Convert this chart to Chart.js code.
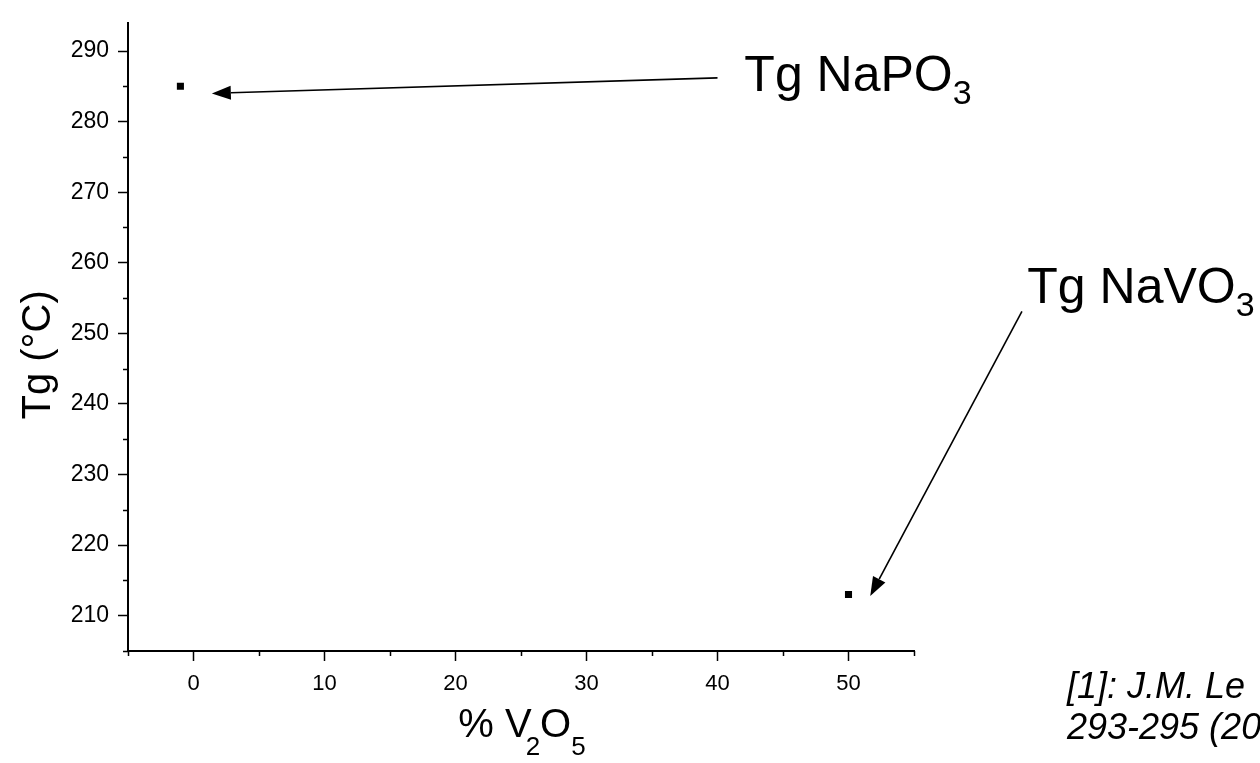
<!DOCTYPE html>
<html>
<head>
<meta charset="utf-8">
<script src="https://cdn.jsdelivr.net/npm/chart.js@4"></script>
<style>
html,body{margin:0;padding:0;background:#fff;overflow:hidden}
#wrap{width:1260px;height:763px;position:relative}
</style>
</head>
<body>
<div id="wrap"><canvas id="c"></canvas></div>
<script>
// ---- data ----
const vPercent = [-1, 50];          // % V2O5
const tgValues = [285, 213];        // Tg (°C)
const xMajorTicks = [0, 10, 20, 30, 40, 50];
const xMinorTicks = [-5, 5, 15, 25, 35, 45, 55];
const yMajorTicks = [210, 220, 230, 240, 250, 260, 270, 280, 290];
const yMinorTicks = [205, 215, 225, 235, 245, 255, 265, 275, 285];
const yTitle = 'Tg (°C)';
const citationLines = ['[1]: J.M. Le', '293-295 (20'];

const FONT = '"Liberation Sans", Arial, Helvetica, sans-serif';

// annotations (arrow tail/tip and label anchor in data units)
const annotations = [
  {text: 'Tg NaPO', sub: '3', tx: 42.05, ty: 284.3, tail: [40.0, 286.2], tip: [1.4, 284.0]},
  {text: 'Tg NaVO', sub: '3', tx: 63.65, ty: 254.3, tail: [63.24, 253.1], tip: [51.66, 212.8]}
];

function drawRich(ctx, parts, x, y, size, subScale, subDrop) {
  let cx = x;
  for (const p of parts) {
    if (p.sub) {
      ctx.font = `${Math.round(size * subScale)}px ${FONT}`;
      cx += (p.dx || 0);
      ctx.fillText(p.t, cx, y + size * subDrop);
      cx += ctx.measureText(p.t).width;
    } else {
      ctx.font = `${size}px ${FONT}`;
      ctx.fillText(p.t, cx, y);
      cx += ctx.measureText(p.t).width;
    }
  }
  return cx - x;
}
function measureRich(ctx, parts, size, subScale) {
  let w = 0;
  for (const p of parts) {
    ctx.font = p.sub ? `${Math.round(size * subScale)}px ${FONT}` : `${size}px ${FONT}`;
    w += ctx.measureText(p.t).width + (p.dx || 0);
  }
  return w;
}
function arrow(ctx, x1, y1, x2, y2) {
  const ang = Math.atan2(y2 - y1, x2 - x1);
  const L = 19, W = 7;
  const bx = x2 - L * Math.cos(ang), by = y2 - L * Math.sin(ang);
  ctx.beginPath();
  ctx.moveTo(x1, y1);
  ctx.lineTo(bx, by);
  ctx.lineWidth = 1.6;
  ctx.strokeStyle = '#000';
  ctx.stroke();
  ctx.beginPath();
  ctx.moveTo(x2, y2);
  ctx.lineTo(bx + W * Math.sin(ang), by - W * Math.cos(ang));
  ctx.lineTo(bx - W * Math.sin(ang), by + W * Math.cos(ang));
  ctx.closePath();
  ctx.fillStyle = '#000';
  ctx.fill();
}

const decor = {
  id: 'decor',
  afterDraw(chart) {
    const ctx = chart.ctx;
    const xs = chart.scales.x, ys = chart.scales.y;
    const area = chart.chartArea;
    ctx.save();
    // minor ticks
    ctx.strokeStyle = '#000';
    ctx.lineWidth = 1.5;
    ctx.beginPath();
    for (const v of xMinorTicks) {
      const px = Math.round(xs.getPixelForValue(v)) + 0.5;
      ctx.moveTo(px, area.bottom);
      ctx.lineTo(px, area.bottom + 5);
    }
    for (const v of yMinorTicks) {
      const py = Math.round(ys.getPixelForValue(v)) + 0.5;
      ctx.moveTo(area.left - 5, py);
      ctx.lineTo(area.left, py);
    }
    ctx.stroke();

    ctx.fillStyle = '#000';
    ctx.textBaseline = 'alphabetic';
    ctx.textAlign = 'left';

    // y title
    ctx.save();
    ctx.translate(50, (area.top + area.bottom) / 2 + 18);
    ctx.rotate(-Math.PI / 2);
    ctx.font = `40px ${FONT}`;
    ctx.textAlign = 'center';
    ctx.fillText(yTitle, 0, 0);
    ctx.restore();

    // x title
    const xt = [{t: '% V'}, {t: '2', sub: true, dx: -6}, {t: 'O'}, {t: '5', sub: true}];
    const w = measureRich(ctx, xt, 40, 0.65);
    drawRich(ctx, xt, 522 - w / 2, 737, 40, 0.65, 0.45);

    // annotations
    for (const a of annotations) {
      drawRich(ctx, [{t: a.text}, {t: a.sub, sub: true}], xs.getPixelForValue(a.tx), ys.getPixelForValue(a.ty), 50, 0.68, 0.26);
      arrow(ctx, xs.getPixelForValue(a.tail[0]), ys.getPixelForValue(a.tail[1]),
                 xs.getPixelForValue(a.tip[0]), ys.getPixelForValue(a.tip[1]));
    }

    // citation
    ctx.font = `italic 36px ${FONT}`;
    ctx.textAlign = 'left';
    ctx.fillText(citationLines[0], 1067, 698);
    ctx.fillText(citationLines[1], 1067, 739);
    ctx.restore();
  }
};

new Chart(document.getElementById('c'), {
  type: 'scatter',
  data: {
    datasets: [{
      data: vPercent.map((v, i) => ({x: v, y: tgValues[i]})),
      pointStyle: 'rect',
      pointRadius: 5,
      pointBackgroundColor: '#000',
      pointBorderWidth: 0,
      showLine: false
    }]
  },
  options: {
    responsive: true,
    maintainAspectRatio: false,
    animation: false,
    layout: {padding: {top: 17, right: 346, left: 0, bottom: 0}},
    plugins: {legend: {display: false}, tooltip: {enabled: false}},
    scales: {
      x: {
        type: 'linear', min: -5, max: 55,
        afterFit: s => { s.height = 112; },
        afterBuildTicks: s => { s.ticks = xMajorTicks.map(v => ({value: v})); },
        ticks: {color: '#000', padding: 10, maxRotation: 0, autoSkip: false,
                font: {size: 22, family: FONT}},
        grid: {drawOnChartArea: false, drawTicks: true, tickLength: 10, tickColor: '#000', tickWidth: 1.5},
        border: {display: true, color: '#000', width: 2}
      },
      y: {
        type: 'linear', min: 205, max: 294,
        afterFit: s => { s.width = 128; },
        afterBuildTicks: s => { s.ticks = yMajorTicks.map(v => ({value: v})); },
        ticks: {color: '#000', padding: 9, autoSkip: false,
                font: {size: 23, family: FONT}},
        grid: {drawOnChartArea: false, drawTicks: true, tickLength: 10, tickColor: '#000', tickWidth: 1.5},
        border: {display: true, color: '#000', width: 2}
      }
    }
  },
  plugins: [decor]
});
</script>
</body>
</html>
